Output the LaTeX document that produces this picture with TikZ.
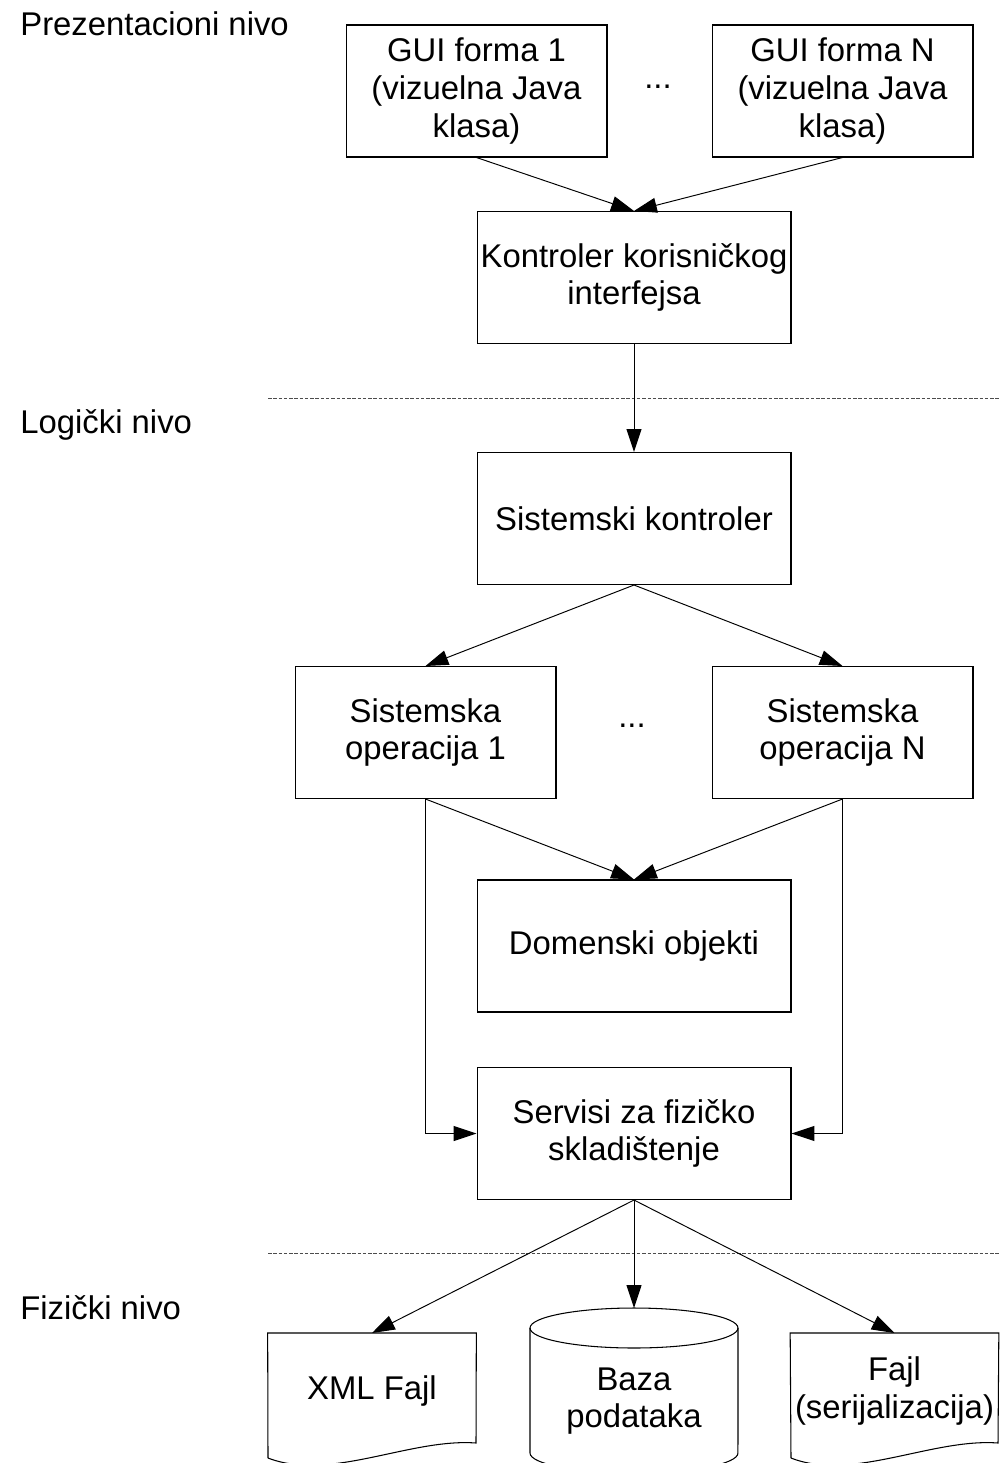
\documentclass[tikz,border=0pt]{standalone}
\usepackage{fontspec}
\setmainfont{Liberation Sans}
\usetikzlibrary{arrows.meta}

\begin{document}
\begin{tikzpicture}[x=0.02cm,y=-0.02cm,
  every node/.style={font=\fontsize{18.7}{21.5}\selectfont},
  blok/.style={draw,line width=0.6pt,align=center,inner sep=1pt,
    minimum width=5.22cm,minimum height=2.64cm},
  siroki/.style={blok,minimum width=6.28cm},
  strelica/.style={-{Triangle[length=13pt,width=8.5pt]},line width=0.55pt},
  granica/.style={dash pattern=on 2pt off 1pt,line width=0.5pt,gray!60!black},
  nivo/.style={anchor=west,inner sep=0pt},
  fajl/.style={align=center,inner sep=0pt}]
  % okvir slike
  \useasboundingbox (0,0) rectangle (1006,1463);

  % nivoi i granice izmedju njih
  \node[nivo] (prez) at (20,24) {Prezentacioni nivo};
  \node[nivo] (logi) at (20,425) {Logički nivo};
  \node[nivo] (fizi) at (20,1308) {Fizički nivo};
  \draw[granica] (268,398) coordinate (g1) -- (1000,398) coordinate (g2);
  \draw[granica] (268,1253) coordinate (h1) -- (1000,1253) coordinate (h2);

  % prezentacioni nivo
  \node[blok] (gui1) at (476.5,91) {GUI forma 1\\(vizuelna Java\\klasa)};
  \node[blok] (guin) at (842.5,91) {GUI forma N\\(vizuelna Java\\klasa)};
  \node (tacke1) at (658,87) {...};
  \node[siroki] (kki) at (634,277.5) {Kontroler korisničkog\\interfejsa};

  % logicki nivo
  \node[siroki] (sk) at (634,518.5) {Sistemski kontroler};
  \node[blok] (so1) at (425.5,732.5) {Sistemska\\operacija 1};
  \node[blok] (son) at (842.5,732.5) {Sistemska\\operacija N};
  \node (tacke2) at (632,726) {...};
  \node[siroki] (do) at (634,946) {Domenski objekti};
  \node[siroki] (sfs) at (634,1133.5) {Servisi za fizičko\\skladištenje};

  % fizicki nivo
  \node[fajl,minimum width=4.16cm,minimum height=2.3cm,anchor=north] (xml) at (372,1333) {XML Fajl};
  \draw[line width=0.6pt] (268,1458) -- (xml.north west) -- (xml.north east) -- (476,1443)
    .. controls (410,1438) and (330,1482) .. (268,1458);

  \node[fajl,minimum width=4.16cm,minimum height=2.3cm,anchor=north] (ser) at (894.5,1333) {Fajl\\(serijalizacija)};
  \draw[line width=0.6pt] (791,1458) -- (ser.north west) -- (ser.north east) -- (998,1443)
    .. controls (932,1438) and (852,1482) .. (791,1458);

  % baza (cilindar)
  \coordinate (bazavrh) at (634,1308);
  \draw[line width=0.6pt] (634,1328) ellipse [x radius=2.08cm,y radius=0.4cm];
  \draw[line width=0.6pt] (530,1328) -- (530,1453)
    arc [start angle=180,end angle=360,x radius=2.08cm,y radius=0.4cm] -- (738,1328);
  \node[fajl] (baza) at (634,1401) {Baza\\podataka};

  % veze
  \draw[strelica] (gui1.south) -- (kki.north);
  \draw[strelica] (guin.south) -- (kki.north);
  \draw[strelica] (kki.south) -- (sk.north);
  \draw[strelica] (sk.south) -- (so1.north);
  \draw[strelica] (sk.south) -- (son.north);
  \draw[strelica] (so1.south) -- (do.north);
  \draw[strelica] (son.south) -- (do.north);
  \draw[strelica] (so1.south) |- (sfs.west);
  \draw[strelica] (son.south) |- (sfs.east);
  \draw[strelica] (sfs.south) -- (xml.north);
  \draw[strelica] (sfs.south) -- (bazavrh);
  \draw[strelica] (sfs.south) -- (ser.north);
\end{tikzpicture}
\end{document}
